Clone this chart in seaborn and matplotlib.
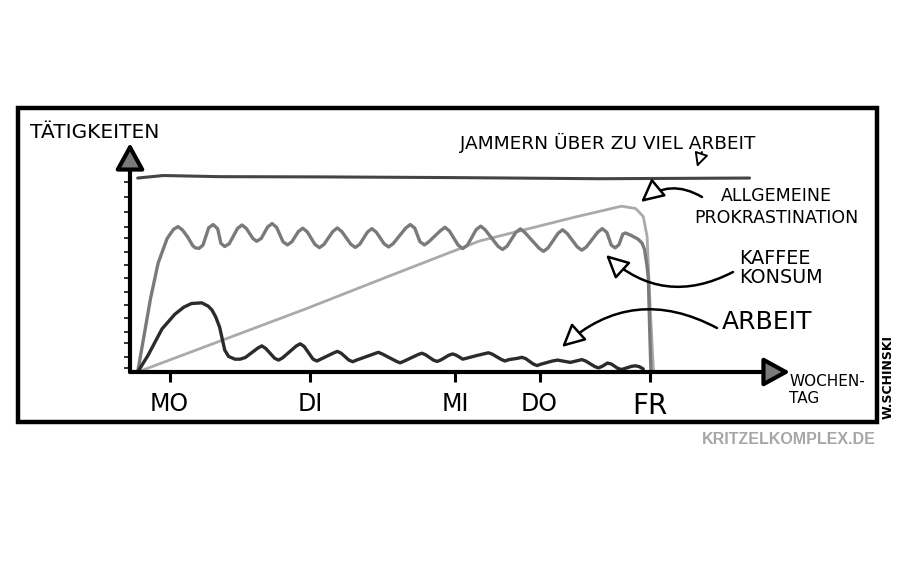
import matplotlib
matplotlib.use("Agg")
import matplotlib.pyplot as plt
from matplotlib.patches import Rectangle
import pandas as pd
import seaborn as sns

# ---------------- data ----------------
days = ["MO", "DI", "MI", "DO", "FR"]
day_pos = [0.31, 1.41, 2.54, 3.20, 4.06]

y_minor_ticks = [83.0, 76.4, 69.9, 63.3, 58.5, 52.4, 46.7, 41.0, 34.9,
                 29.3, 23.6, 17.5, 12.7, 6.6, 1.7]

jammern_x = [0.06, 0.26, 0.70, 1.48, 2.50, 3.67, 4.84]
jammern_y = [84.7, 85.8, 85.3, 85.2, 84.9, 84.4, 84.7]

prok_x = [0.06, 1.37, 2.03, 2.73, 3.48, 3.84, 3.95, 4.01, 4.04, 4.06, 4.09]
prok_y = [0.0, 27.5, 42.0, 57.2, 67.7, 72.4, 71.4, 67.9, 59.1, 33.0, 0.0]

kaffee_x = [0.06, 0.16, 0.22, 0.29, 0.34, 0.375, 0.41, 0.45, 0.49, 0.51,
            0.54, 0.57, 0.615, 0.65, 0.685, 0.71, 0.74, 0.775, 0.84, 0.875,
            0.91, 0.96, 0.99, 1.025, 1.075, 1.11, 1.145, 1.195, 1.23, 1.265,
            1.315, 1.35, 1.385, 1.445, 1.48, 1.515, 1.585, 1.62, 1.655, 1.725,
            1.76, 1.795, 1.855, 1.89, 1.925, 1.985, 2.02, 2.055, 2.155, 2.19,
            2.225, 2.265, 2.30, 2.335, 2.425, 2.46, 2.495, 2.565, 2.60, 2.635,
            2.705, 2.74, 2.775, 2.875, 2.91, 2.945, 3.015, 3.05, 3.085, 3.195,
            3.23, 3.265, 3.345, 3.38, 3.415, 3.495, 3.53, 3.565, 3.655, 3.69,
            3.725, 3.76, 3.79, 3.82, 3.85, 3.87, 3.91, 3.97, 4.00, 4.02,
            4.04, 4.05, 4.06, 4.07]
kaffee_y = [0.0, 32.0, 47.6, 58.3, 62.3, 63.5, 62.0, 59.0, 55.2, 54.2,
            54.0, 55.4, 63.0, 64.4, 62.5, 56.2, 54.8, 56.0, 62.7, 64.2,
            62.6, 58.3, 57.1, 58.3, 63.3, 64.8, 63.2, 56.9, 55.5, 56.9,
            61.3, 62.8, 61.2, 55.7, 54.3, 55.7, 61.4, 62.9, 61.3, 55.8,
            54.4, 55.8, 61.1, 62.6, 61.0, 56.0, 54.6, 56.0, 62.9, 64.4,
            62.8, 56.9, 55.5, 56.9, 61.7, 63.2, 61.6, 55.3, 53.9, 55.3,
            62.2, 63.7, 62.1, 54.9, 53.5, 54.9, 61.0, 62.5, 60.9, 54.1,
            52.7, 54.1, 60.6, 62.1, 60.5, 54.6, 53.2, 54.6, 61.1, 62.6,
            61.0, 55.4, 54.2, 55.6, 60.2, 60.7, 59.8, 58.0, 56.3, 53.5,
            46.0, 40.4, 18.7, 0.0]

arbeit_x = [0.06, 0.14, 0.25, 0.35, 0.42, 0.48, 0.56, 0.61, 0.64, 0.67,
            0.70, 0.74, 0.77, 0.82, 0.86, 0.90, 1.00, 1.03, 1.06, 1.13,
            1.16, 1.19, 1.30, 1.33, 1.36, 1.43, 1.46, 1.49, 1.59, 1.62,
            1.65, 1.71, 1.74, 1.77, 1.91, 1.94, 1.97, 2.08, 2.11, 2.14,
            2.25, 2.28, 2.31, 2.37, 2.40, 2.43, 2.49, 2.52, 2.55, 2.60,
            2.71, 2.77, 2.80, 2.83, 2.90, 2.93, 2.96, 3.03, 3.06, 3.09,
            3.15, 3.18, 3.21, 3.30, 3.34, 3.38, 3.44, 3.50, 3.53, 3.56,
            3.63, 3.66, 3.69, 3.73, 3.76, 3.81, 3.84, 3.87, 3.92, 3.95,
            3.98, 4.01]
arbeit_y = [0.0, 7.2, 18.8, 25.2, 28.3, 29.9, 30.2, 28.8, 27.1, 24.0,
            19.6, 9.6, 6.8, 5.6, 5.6, 6.3, 10.5, 11.4, 10.3, 6.0,
            5.2, 6.1, 11.4, 12.3, 11.2, 5.6, 4.8, 5.6, 8.3, 9.0,
            8.2, 5.2, 4.5, 5.2, 8.0, 8.6, 7.9, 4.7, 4.0, 4.7,
            7.6, 8.2, 7.5, 5.2, 4.6, 5.3, 7.3, 7.9, 7.3, 5.6,
            7.2, 8.0, 8.4, 7.8, 5.5, 4.8, 5.4, 6.0, 6.4, 5.9,
            3.5, 2.8, 3.4, 4.8, 5.2, 4.8, 4.2, 5.0, 5.4, 4.8,
            2.4, 1.8, 2.5, 3.9, 3.5, 1.6, 1.1, 1.6, 2.5, 2.7,
            2.3, 1.3]

# ---------------- figure ----------------
sns.set_theme(style="white")
plt.rcParams["font.family"] = ["DejaVu Sans"]
plt.rcParams["text.color"] = "black"

W, H = 900, 562
fig = plt.figure(figsize=(9, 5.62), dpi=100)
fig.patch.set_facecolor("white")

def fx(px):
    return px / W

def fy(py):
    return 1 - py / H

# outer frame
frame = Rectangle((fx(18), fy(422)), fx(877) - fx(18), fy(108) - fy(422),
                  transform=fig.transFigure, fill=False, lw=3.2, ec="black")
fig.patches.append(frame)

ax = fig.add_axes([fx(130), fy(372), fx(790) - fx(130), fy(143) - fy(372)])
ax.set_facecolor("none")
for s in ax.spines.values():
    s.set_visible(False)
ax.set_xlim(0, 660 / 128)
ax.set_ylim(0, 100)

series = [
    (jammern_x, jammern_y, "#444444", 2.2),
    (prok_x, prok_y, "#aaaaaa", 2.0),
    (kaffee_x, kaffee_y, "#7a7a7a", 2.4),
    (arbeit_x, arbeit_y, "#2b2b2b", 2.4),
]
for xs, ys, col, lw in series:
    df = pd.DataFrame({"x": xs, "y": ys})
    sns.lineplot(data=df, x="x", y="y", ax=ax, color=col, lw=lw,
                 sort=False, estimator=None, legend=False)
for ln in ax.lines:
    ln.set_solid_joinstyle("round")
    ln.set_solid_capstyle("round")
ax.set_xlabel("")
ax.set_ylabel("")

# ticks
ax.set_xticks(day_pos, days)
ax.tick_params(axis="x", length=7.5, width=2.2, direction="out", pad=7,
               labelsize=17, colors="black", bottom=True)
ax.get_xticklabels()[-1].set_fontsize(20)
ax.set_yticks(y_minor_ticks, [""] * len(y_minor_ticks))
ax.tick_params(axis="y", length=4, width=1.3, direction="out", left=True,
               colors="#222222")

# axis arrows
arrow_kw = dict(arrowstyle="-|>,head_length=0.4,head_width=0.22",
                mutation_scale=40, fc="#7a7a7a", ec="black", lw=3.0,
                shrinkA=0, shrinkB=0)
ax.annotate("", xy=(0, 1), xytext=(0, 0), xycoords="axes fraction",
            textcoords="axes fraction", arrowprops=arrow_kw, annotation_clip=False)
ax.annotate("", xy=(1, 0), xytext=(0, 0), xycoords="axes fraction",
            textcoords="axes fraction", arrowprops=arrow_kw, annotation_clip=False)

# texts
fig.text(fx(30), fy(132), "TÄTIGKEITEN", fontsize=14.5, va="center", ha="left")
fig.text(fx(460), fy(143), "JAMMERN ÜBER ZU VIEL ARBEIT", fontsize=13.3,
         va="center", ha="left")
fig.text(fx(776), fy(207), "ALLGEMEINE\nPROKRASTINATION", fontsize=12.5,
         ha="center", va="center", linespacing=1.25, multialignment="center")
fig.text(fx(739), fy(268), "KAFFEE\nKONSUM", fontsize=13.8, ha="left",
         va="center", linespacing=1.05)
fig.text(fx(722), fy(322), "ARBEIT", fontsize=18, ha="left", va="center")
fig.text(fx(789), fy(390), "WOCHEN-\nTAG", fontsize=11, ha="left",
         va="center", linespacing=1.1)
fig.text(fx(888), fy(377), "W.SCHINSKI", rotation=90, fontsize=9,
         weight="bold", ha="center", va="center")
fig.text(fx(876), fy(440), "KRITZELKOMPLEX.DE", fontsize=11.5, weight="bold",
         color="#a6a6a6", ha="right", va="center",
         family=["Liberation Sans", "DejaVu Sans"])

# annotation arrows
def pointer(start, end, rad, ms=20, lw=1.8):
    ax.annotate("", xy=(fx(end[0]), fy(end[1])),
                xytext=(fx(start[0]), fy(start[1])),
                xycoords="figure fraction", textcoords="figure fraction",
                arrowprops=dict(arrowstyle="-|>,head_length=0.7,head_width=0.35",
                                mutation_scale=ms, fc="white", ec="black",
                                lw=lw, shrinkA=0, shrinkB=0,
                                connectionstyle=f"arc3,rad={rad}"),
                annotation_clip=False)

pointer((702, 152), (697, 167), 0.0, ms=12, lw=1.4)
pointer((702, 197), (641, 202), 0.35)
pointer((733, 272), (606, 255), -0.35)
pointer((717, 328), (562, 347), 0.35)

fig.savefig("out.png", dpi=100, facecolor="white")
